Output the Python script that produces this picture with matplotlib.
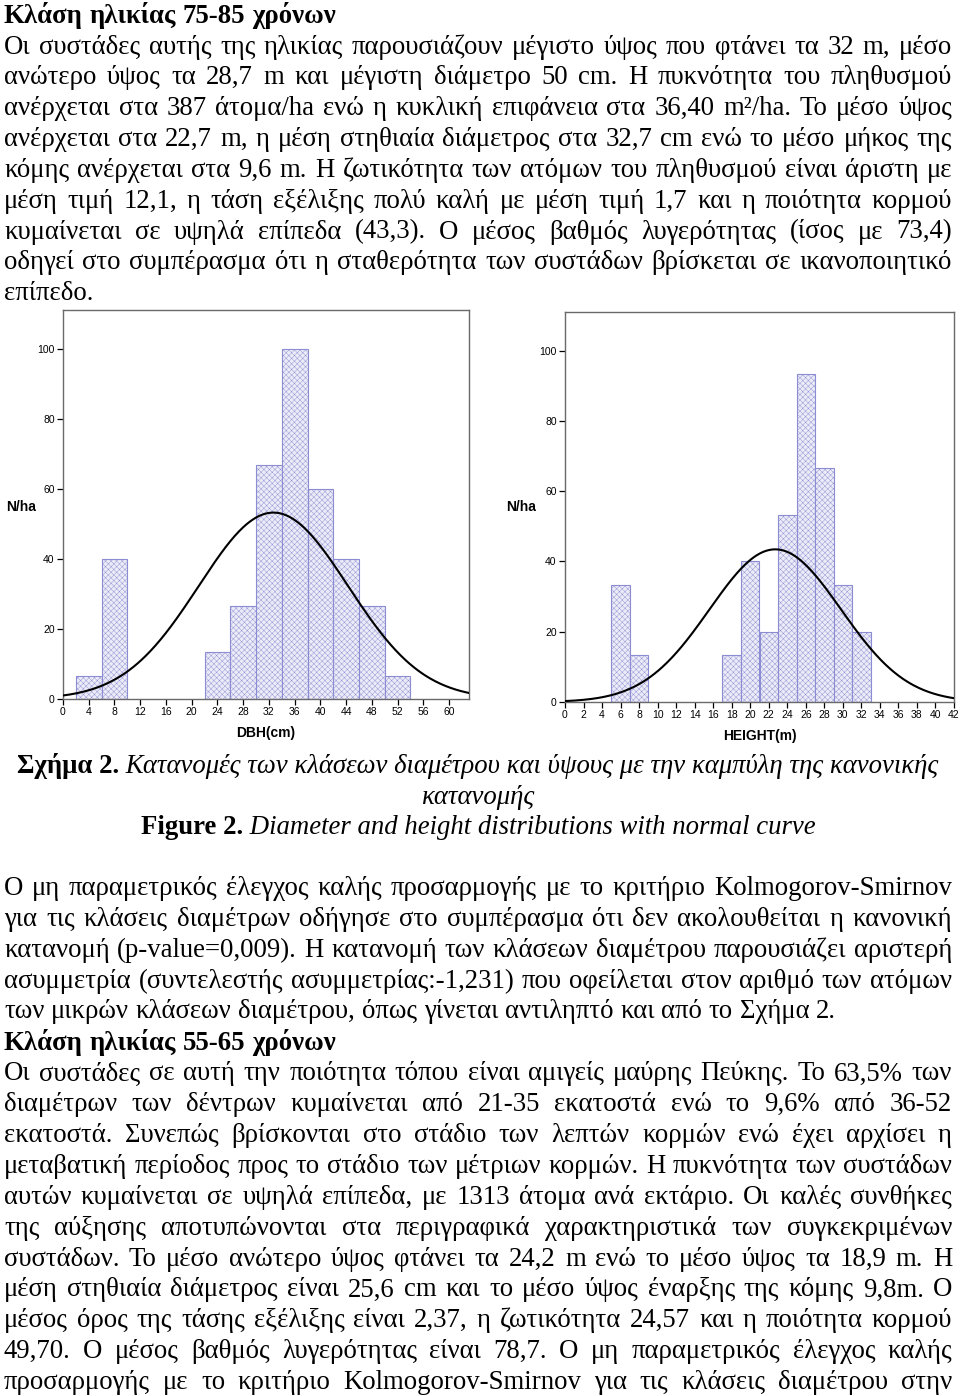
import numpy as np
import matplotlib
matplotlib.use("Agg")
import matplotlib.pyplot as plt

W, H = 960, 1396
SERIF = ['Liberation Serif', 'DejaVu Serif']
SANS = ['Liberation Sans', 'DejaVu Sans']

# histogram data (N/ha per class)
dbh_left = [2, 6, 22, 26, 30, 34, 38, 42, 46, 50]
dbh_nha = [6.67, 40, 13.33, 26.67, 66.67, 100, 60, 40, 26.67, 6.67]
dbh_width = 4
dbh_mean, dbh_sd = 32.7, 11.6
dbh_ticks = list(range(0, 61, 4))

height_left = [5, 7, 17, 19, 21, 23, 25, 27, 29, 31]
height_nha = [33.33, 13.33, 13.33, 40, 20, 53.33, 93.33, 66.67, 33.33, 20]
height_width = 2
height_mean, height_sd = 22.7, 7.1
height_ticks = list(range(0, 43, 2))

y_ticks = [0, 20, 40, 60, 80, 100]

# page text
block1 = [
    "Οι συστάδες αυτής της ηλικίας παρουσιάζουν μέγιστο ύψος που φτάνει τα 32 m, μέσο",
    "ανώτερο ύψος τα 28,7 m και μέγιστη διάμετρο 50 cm. Η πυκνότητα του πληθυσμού",
    "ανέρχεται στα 387 άτομα/ha ενώ η κυκλική επιφάνεια στα 36,40 m²/ha. Το μέσο ύψος",
    "ανέρχεται στα 22,7 m, η μέση στηθιαία διάμετρος στα 32,7 cm ενώ το μέσο μήκος της",
    "κόμης ανέρχεται στα 9,6 m. Η ζωτικότητα των ατόμων του πληθυσμού είναι άριστη με",
    "μέση τιμή 12,1, η τάση εξέλιξης πολύ καλή με μέση τιμή 1,7 και η ποιότητα κορμού",
    "κυμαίνεται σε υψηλά επίπεδα (43,3). Ο μέσος βαθμός λυγερότητας (ίσος με 73,4)",
    "οδηγεί στο συμπέρασμα ότι η σταθερότητα των συστάδων βρίσκεται σε ικανοποιητικό",
    "επίπεδο.",
]
block2 = [
    "Ο μη παραμετρικός έλεγχος καλής προσαρμογής με το κριτήριο Kolmogorov-Smirnov",
    "για τις κλάσεις διαμέτρων οδήγησε στο συμπέρασμα ότι δεν ακολουθείται η κανονική",
    "κατανομή (p-value=0,009). Η κατανομή των κλάσεων διαμέτρου παρουσιάζει αριστερή",
    "ασυμμετρία (συντελεστής ασυμμετρίας:-1,231) που οφείλεται στον αριθμό των ατόμων",
    "των μικρών κλάσεων διαμέτρου, όπως γίνεται αντιληπτό και από το Σχήμα 2.",
]
block3 = [
    "Οι συστάδες σε αυτή την ποιότητα τόπου είναι αμιγείς μαύρης Πεύκης. Το 63,5% των",
    "διαμέτρων των δέντρων κυμαίνεται από 21-35 εκατοστά ενώ το 9,6% από 36-52",
    "εκατοστά. Συνεπώς βρίσκονται στο στάδιο των λεπτών κορμών ενώ έχει αρχίσει η",
    "μεταβατική περίοδος προς το στάδιο των μέτριων κορμών. Η πυκνότητα των συστάδων",
    "αυτών κυμαίνεται σε υψηλά επίπεδα, με 1313 άτομα ανά εκτάριο. Οι καλές συνθήκες",
    "της αύξησης αποτυπώνονται στα περιγραφικά χαρακτηριστικά των συγκεκριμένων",
    "συστάδων. Το μέσο ανώτερο ύψος φτάνει τα 24,2 m ενώ το μέσο ύψος τα 18,9 m. Η",
    "μέση στηθιαία διάμετρος είναι 25,6 cm και το μέσο ύψος έναρξης της κόμης 9,8m. Ο",
    "μέσος όρος της τάσης εξέλιξης είναι 2,37, η ζωτικότητα 24,57 και η ποιότητα κορμού",
    "49,70. Ο μέσος βαθμός λυγερότητας είναι 78,7. Ο μη παραμετρικός έλεγχος καλής",
    "προσαρμογής με το κριτήριο Kolmogorov-Smirnov για τις κλάσεις διαμέτρου στην",
]

FS = 19.3
LEFT, RIGHT = 4, 952
LINE = 30.85

fig = plt.figure(figsize=(W / 100, H / 100), dpi=100)
renderer = fig.canvas.get_renderer()


def fy(py):
    return 1 - py / H


def text_width(s, size, **kw):
    t = fig.text(0, 0, s, fontsize=size, family=SERIF, **kw)
    w = t.get_window_extent(renderer).width
    t.remove()
    return w


def put_line(s, yc, justify=True, weight='normal', size=FS):
    words = s.split(' ')
    base = fy(yc + 9)
    texts = [fig.text(0, base, w, fontsize=size, family=SERIF, weight=weight,
                      va='baseline', ha='left') for w in words]
    widths = [t.get_window_extent(renderer).width for t in texts]
    space = text_width('a a', size) - text_width('aa', size)
    gap = space
    if justify and len(words) > 1:
        gap = (RIGHT - LEFT - sum(widths)) / (len(words) - 1)
        if gap < space * 0.45:
            for t in texts:
                t.remove()
            return put_line(s, yc, justify, weight, size * 0.985)
    x = LEFT
    for t, w in zip(texts, widths):
        t.set_x(x / W)
        x += w + gap


def put_block(lines, y0, last_justified=False):
    for i, s in enumerate(lines):
        put_line(s, y0 + i * LINE, justify=(i < len(lines) - 1 or last_justified))


put_line("Κλάση ηλικίας 75-85 χρόνων", 14, justify=False, weight='bold')
put_block(block1, 44.5)
put_block(block2, 886)
put_line("Κλάση ηλικίας 55-65 χρόνων", 1041, justify=False, weight='bold')
put_block(block3, 1071.5, last_justified=True)


def put_caption(bold, ital, yc):
    a = fig.text(0, fy(yc + 9), bold, fontsize=FS, family=SERIF, weight='bold', va='baseline')
    b = fig.text(0, fy(yc + 9), ital, fontsize=FS, family=SERIF, style='italic', va='baseline')
    wa = a.get_window_extent(renderer).width
    wb = b.get_window_extent(renderer).width
    x0 = 478 - (wa + wb) / 2
    a.set_x(x0 / W)
    b.set_x((x0 + wa) / W)


put_caption("Σχήμα 2.", " Κατανομές των κλάσεων διαμέτρου και ύψους με την καμπύλη της κανονικής", 764)
put_caption("", "κατανομής", 795)
put_caption("Figure 2.", " Diameter and height distributions with normal curve", 825)


def histogram(rect, left, nha, width, mean, sd, xmax, ticks, xlabel, ylab_x):
    ax = fig.add_axes(rect)
    ax.bar(left, nha, width=width, align='edge', facecolor='#ececf8',
           edgecolor='#8c8cd2', hatch='xxxxxx', linewidth=0.8, zorder=2)
    total = sum(nha)
    xs = np.linspace(0, xmax, 400)
    ys = total * width / (sd * np.sqrt(2 * np.pi)) * np.exp(-0.5 * ((xs - mean) / sd) ** 2)
    ax.plot(xs, ys, color='black', lw=1.5, zorder=3)
    ax.set_xlim(0, xmax)
    ax.set_ylim(0, 111)
    ax.set_xticks(ticks)
    ax.set_yticks(y_ticks)
    ax.tick_params(direction='out', length=4, width=0.9, labelsize=7.5, pad=2, color='black')
    for lab in ax.get_xticklabels() + ax.get_yticklabels():
        lab.set_family(SANS)
    for sp in ax.spines.values():
        sp.set_color('#6a6a6a')
        sp.set_linewidth(1.0)
    ax.set_xlabel(xlabel, fontsize=10, weight='bold', family=SANS, labelpad=6)
    fig.text(ylab_x / W, fy(507), 'N/ha', fontsize=10, weight='bold', family=SANS,
             ha='center', va='center')
    return ax


plt.rcParams['hatch.linewidth'] = 0.3
histogram([63 / W, fy(699), 406 / W, 389 / H], dbh_left, dbh_nha, dbh_width,
          dbh_mean, dbh_sd, 63.1, dbh_ticks, 'DBH(cm)', 21)
histogram([565 / W, fy(702), 389 / W, 390 / H], height_left, height_nha, height_width,
          height_mean, height_sd, 42, height_ticks, 'HEIGHT(m)', 521)

fig.savefig('out.png', dpi=100)
